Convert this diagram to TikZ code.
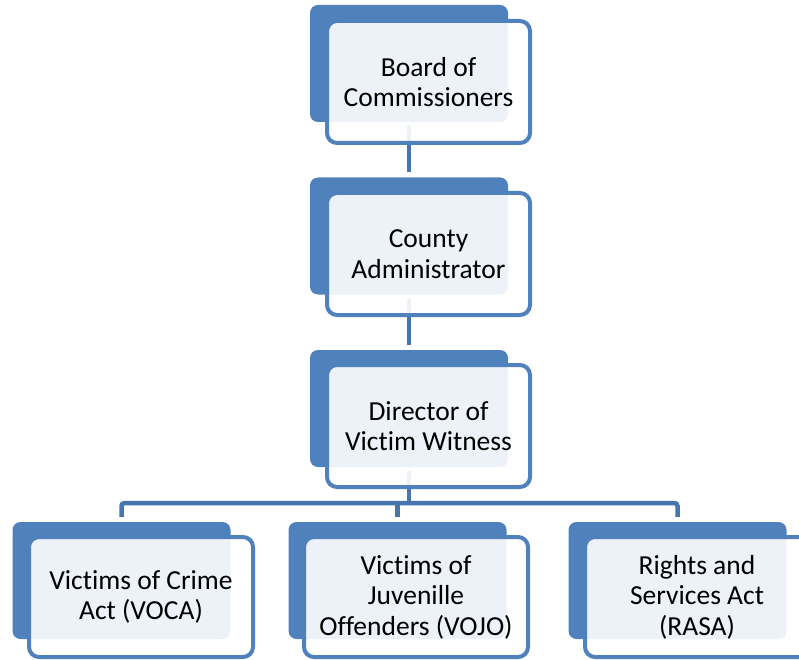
\documentclass[tikz,border=0pt]{standalone}
\usepackage{fontspec}
\setmainfont{Carlito}[Ligatures=NoCommon]
\usepackage{xcolor}
\usepackage{tikz}
\usetikzlibrary{calc}
\definecolor{accent}{HTML}{4F81BD}
\definecolor{wire}{HTML}{4775AE}

\begin{document}
\begin{tikzpicture}[x=1pt, y=-1pt,
    backbox/.style={rectangle, rounded corners=8pt, fill=accent, inner sep=0pt,
      minimum width=198pt, minimum height=117pt},
    frontbox/.style={rectangle, rounded corners=10pt, draw=accent, line width=4pt,
      fill=white, fill opacity=0.9, text opacity=1, inner sep=0pt, align=center,
      minimum width=203pt, minimum height=122pt,
      font=\fontsize{27.5}{30.5}\selectfont},
    wideback/.style={backbox, minimum width=218pt},
    widefront/.style={frontbox, minimum width=224pt, minimum height=120pt},
    wire/.style={draw=wire, line width=4.5pt, shorten >=5pt, shorten <=4pt}]
  \useasboundingbox (0,0) rectangle (799,660);

  % Back plates
  \node[backbox] (boardBack) at (409,63.5) {};
  \node[backbox] (countyBack) at (409,236) {};
  \node[backbox] (directorBack) at (409,408.5) {};
  \node[wideback] (vocaBack) at (121.5,580.5) {};
  \node[wideback] (vojoBack) at (397.5,580.5) {};
  \node[wideback] (rasaBack) at (677.5,580.5) {};

  % Connectors
  \draw[wire] (boardBack.south) -- (countyBack.north);
  \draw[wire] (countyBack.south) -- (directorBack.north);
  \coordinate (bus) at (409,503);
  \draw[wire, shorten >=0pt] (directorBack.south) -- (bus);
  \draw[wire, shorten <=0pt, shorten >=0pt, rounded corners=3pt]
    ($(vocaBack.north)+(0,-5)$) |- (bus) -| ($(rasaBack.north)+(0,-5)$);
  \draw[wire, shorten <=0pt] (vojoBack.north |- bus) -- (vojoBack.north);

  % Front cards
  \node[frontbox] (board) at (428.5,82) {Board of\\Commissioners};
  \node[frontbox] (county) at (428.5,254) {County\\Administrator};
  \node[frontbox] (director) at (428.5,426) {Director of\\Victim Witness};
  \node[widefront] (voca) at (141,597) {Victims of Crime\\Act (VOCA)};
  \node[widefront] (vojo) at (416,597) {Victims of\\Juvenille\\Offenders (VOJO)};
  \node[widefront] (rasa) at (697,597) {Rights and\\Services Act\\(RASA)};
\end{tikzpicture}
\end{document}
